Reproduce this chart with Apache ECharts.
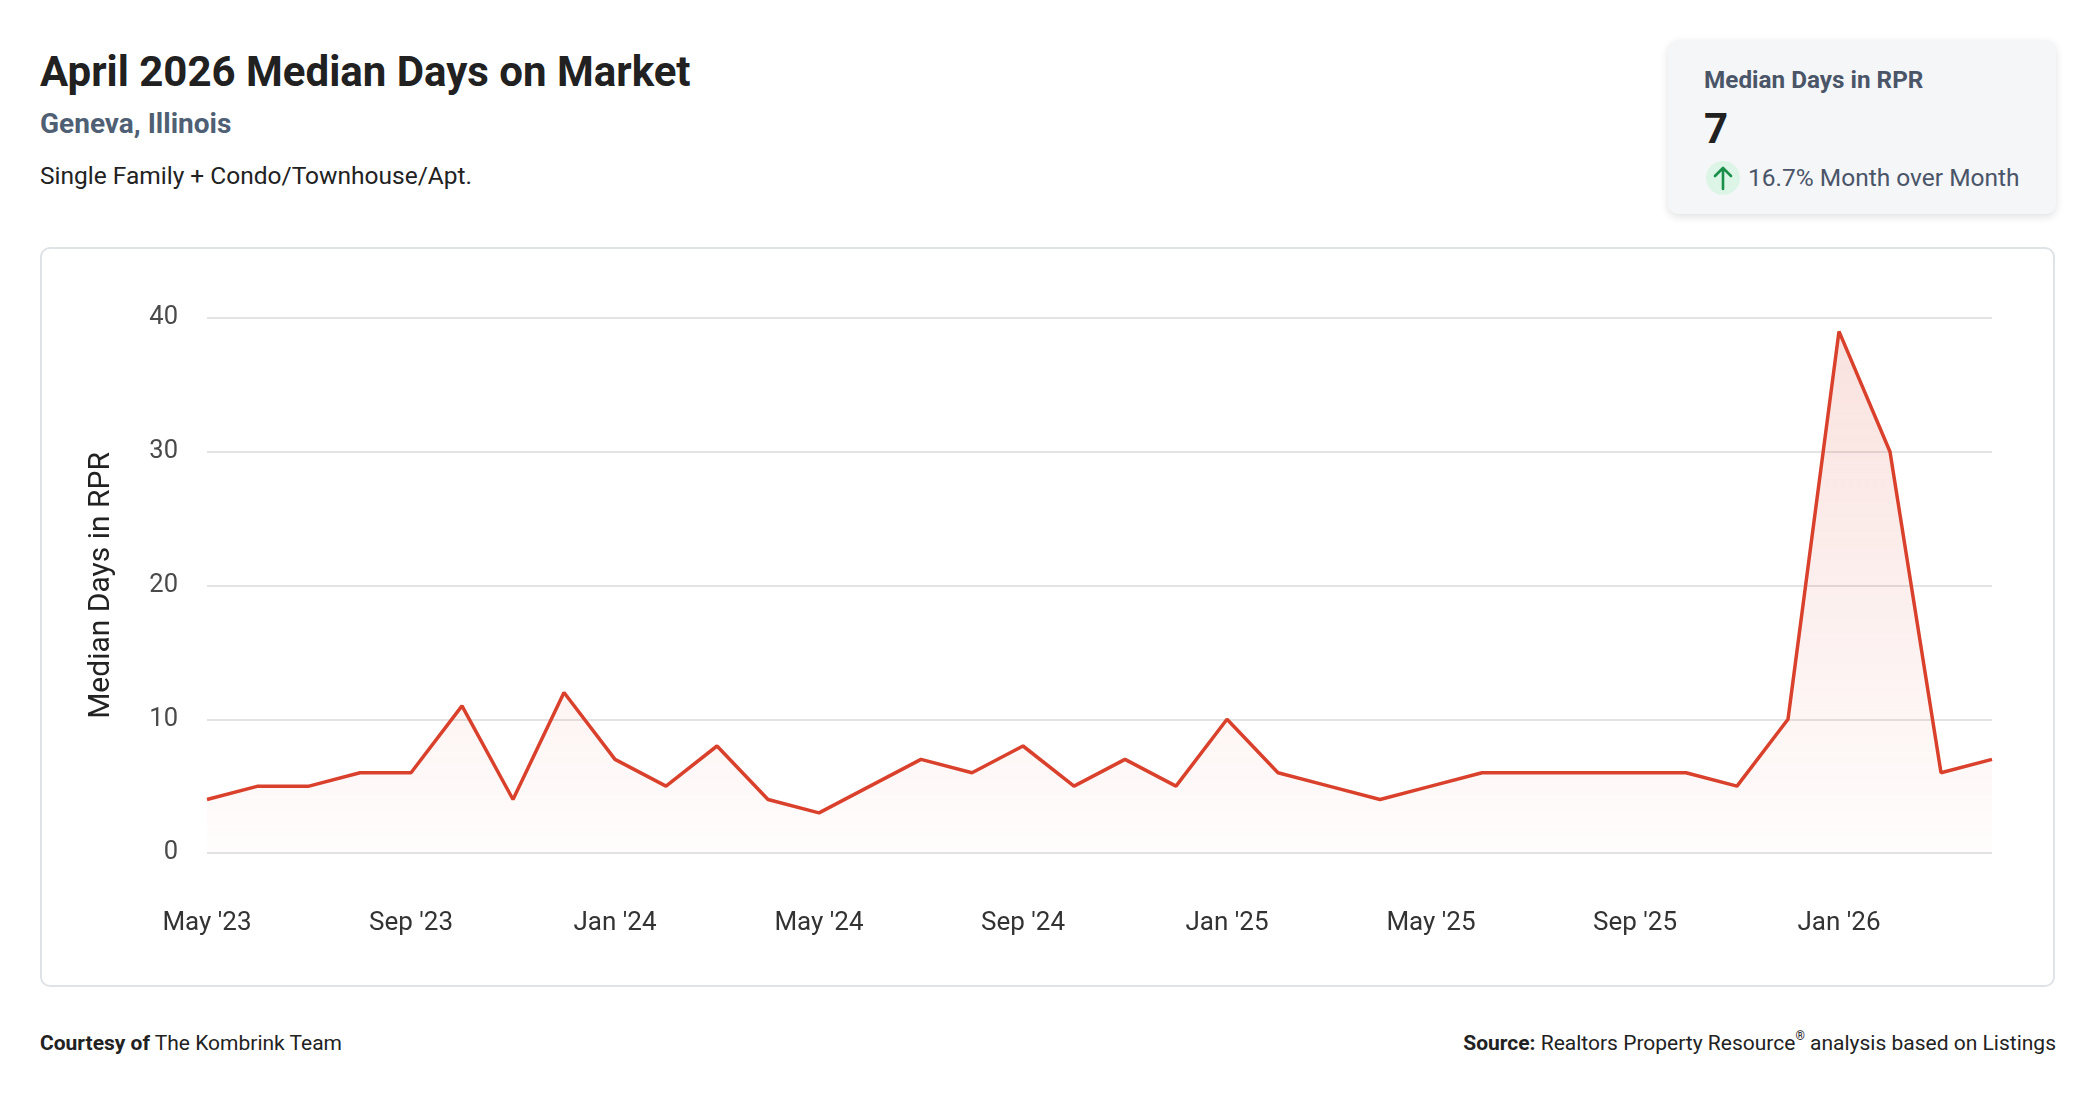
<!DOCTYPE html>
<html>
<head>
<meta charset="utf-8">
<script src="https://cdn.jsdelivr.net/npm/echarts@6/dist/echarts.min.js"></script>
<style>
  html, body { margin: 0; padding: 0; background: #fff; }
  body { width: 2096px; height: 1100px; position: relative; overflow: hidden; font-family: Roboto, "Noto Sans", sans-serif; color: #222; }
  .abs { position: absolute; white-space: nowrap; }
  #title { left: 40px; top: 47px; font-size: 42px; font-weight: 700; color: #212121; }
  #place { left: 40px; top: 107px; font-size: 28px; font-weight: 700; color: #4f5f74; }
  #types { left: 40px; top: 161px; font-size: 24.5px; color: #222; }
  #card { left: 1668px; top: 40px; width: 388px; height: 174px; background: #f5f6f8; border-radius: 10px;
          box-shadow: 0 3px 8px rgba(0,0,0,0.12); }
  #cardTitle { left: 36px; top: 25px; font-size: 24.3px; font-weight: 700; color: #4a5568; }
  #cardValue { left: 36px; top: 64px; font-size: 42px; font-weight: 700; color: #212121; }
  #cardArrow { left: 38px; top: 121px; width: 34px; height: 34px; border-radius: 50%; background: #dcf5e6; }
  #cardArrow svg { position: absolute; left: 7px; top: 4px; }
  #cardDelta { left: 80px; top: 123px; font-size: 24.5px; color: #4a5568; }
  #box { left: 40px; top: 247px; width: 2015px; height: 740px; box-sizing: border-box; border: 2px solid #dfe3e8; border-radius: 10px; }
  #chart { position: absolute; left: 0; top: 0; right: 0; bottom: 0; }
  #courtesy { left: 40px; top: 1031px; font-size: 21px; color: #222; }
  #source { right: 40px; top: 1031px; font-size: 21px; color: #222; }
  sup { font-size: 12px; vertical-align: top; position: relative; top: -2px; }
</style>
</head>
<body>
<div id="title" class="abs">April 2026 Median Days on Market</div>
<div id="place" class="abs">Geneva, Illinois</div>
<div id="types" class="abs">Single Family + Condo/Townhouse/Apt.</div>

<div id="card" class="abs">
  <div id="cardTitle" class="abs">Median Days in RPR</div>
  <div id="cardValue" class="abs">7</div>
  <div id="cardArrow" class="abs">
    <svg width="20" height="26" viewBox="0 0 20 26"><path d="M10 24 V3 M2 11 L10 3 L18 11" stroke="#1a8f4a" stroke-width="2.6" fill="none" stroke-linecap="round" stroke-linejoin="round"/></svg>
  </div>
  <div id="cardDelta" class="abs">16.7% Month over Month</div>
</div>

<div id="box" class="abs"><div id="chart"></div></div>

<div id="courtesy" class="abs"><b>Courtesy of</b> The Kombrink Team</div>
<div id="source" class="abs"><b>Source:</b> Realtors Property Resource<sup>&reg;</sup> analysis based on Listings</div>

<script>
// months shown on the x axis, May '23 .. Apr '26
var months = [
  "May '23","Jun '23","Jul '23","Aug '23","Sep '23","Oct '23","Nov '23","Dec '23",
  "Jan '24","Feb '24","Mar '24","Apr '24","May '24","Jun '24","Jul '24","Aug '24",
  "Sep '24","Oct '24","Nov '24","Dec '24","Jan '25","Feb '25","Mar '25","Apr '25",
  "May '25","Jun '25","Jul '25","Aug '25","Sep '25","Oct '25","Nov '25","Dec '25",
  "Jan '26","Feb '26","Mar '26","Apr '26"
];
// median days in RPR
var medianDays = [
  4, 5, 5, 6, 6, 11, 4, 12,
  7, 5, 8, 4, 3, 5, 7, 6,
  8, 5, 7, 5, 10, 6, 5, 4,
  5, 6, 6, 6, 6, 6, 5, 10,
  39, 30, 6, 7
];
var yTicks = [0, 10, 20, 30, 40];

var myCharts = echarts.init(document.getElementById('chart'));
var option = {
  animation: false,
  textStyle: { fontFamily: 'Roboto' },
  grid: { left: 165, right: 61, top: 69, bottom: 132 },
  xAxis: {
    type: 'category',
    data: months,
    boundaryGap: false,
    axisLine: { show: false },
    axisTick: { show: false },
    axisLabel: { interval: 3, margin: 57, fontSize: 26, color: '#333' }
  },
  yAxis: {
    type: 'value',
    min: yTicks[0],
    max: yTicks[yTicks.length - 1],
    interval: 10,
    name: 'Median Days in RPR',
    nameLocation: 'middle',
    nameGap: 91,
    nameTextStyle: { fontSize: 30, color: '#222' },
    axisLine: { show: false },
    axisTick: { show: false },
    axisLabel: { margin: 29, fontSize: 25.5, color: '#4a4a4a' },
    splitLine: { lineStyle: { color: '#e3e3e3', width: 2 } }
  },
  series: [{
    name: 'Median Days in RPR',
    type: 'line',
    data: medianDays,
    symbol: 'none',
    lineStyle: { color: '#da412c', width: 3.5 },
    areaStyle: {
      color: new echarts.graphic.LinearGradient(0, 0, 0, 1, [
        { offset: 0, color: 'rgba(218,65,44,0.22)' },
        { offset: 1, color: 'rgba(218,65,44,0.02)' }
      ])
    }
  }]
};
myCharts.setOption(option);
</script>
</body>
</html>
